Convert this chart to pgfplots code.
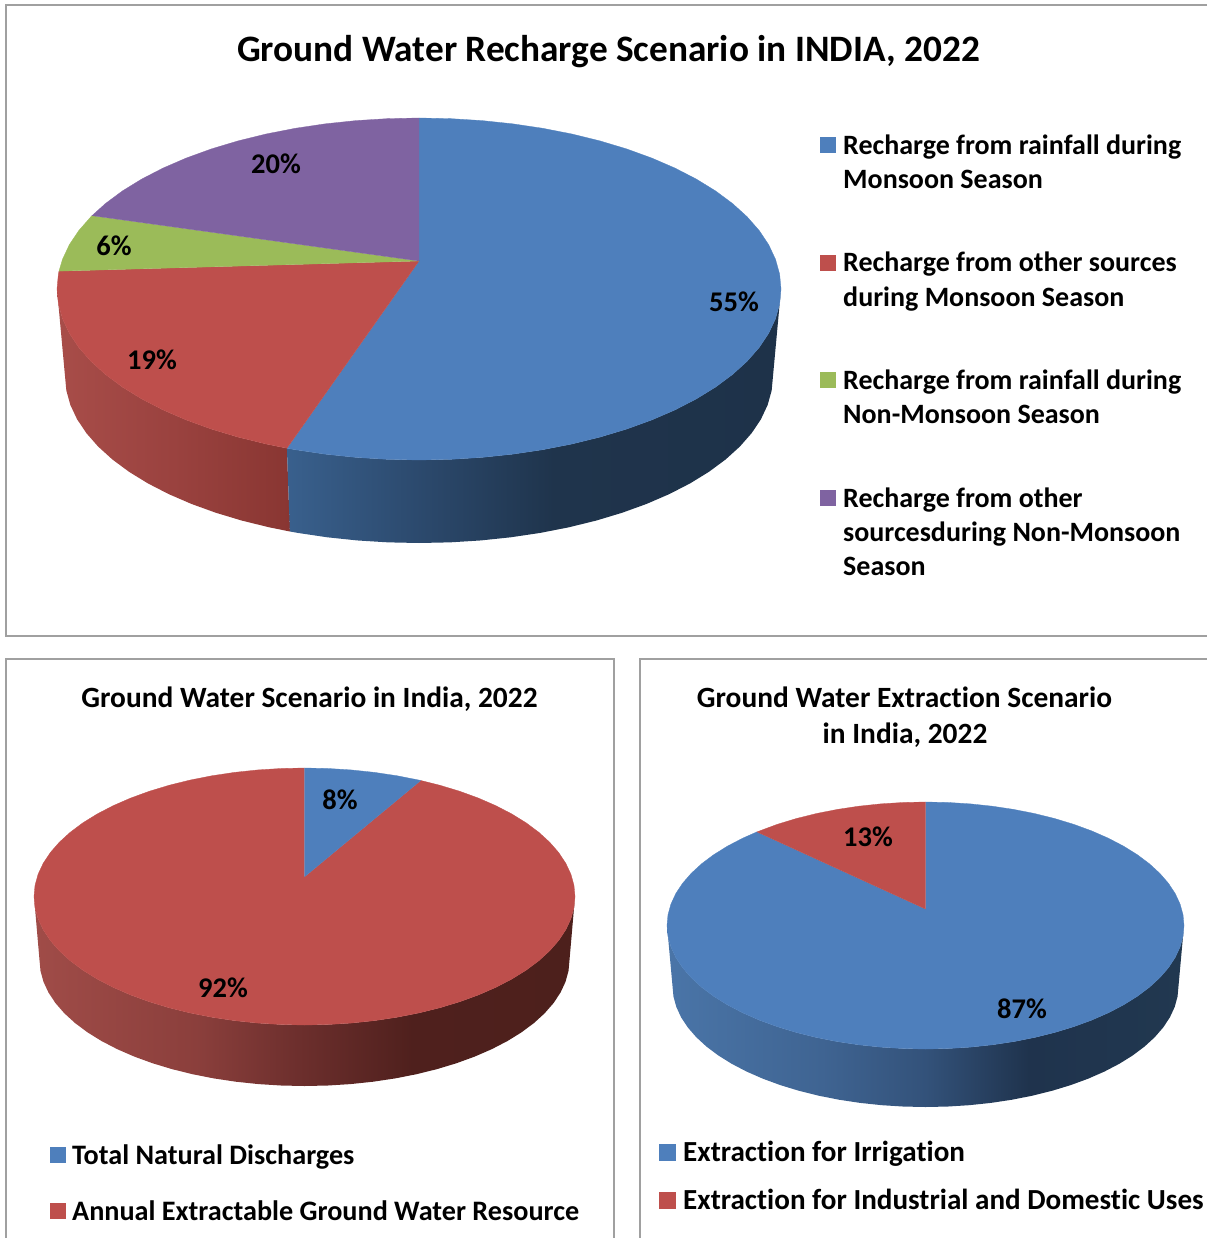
\documentclass[border=0pt]{standalone}
\usepackage{fontspec}
\setmainfont{Carlito}[Ligatures=CommonOff]
\usepackage{pgfplots}
\usepackage{pgfplotstable}
\pgfplotsset{compat=1.18}
\definecolor{cblue}{HTML}{4E7FBC}
\definecolor{cred}{HTML}{BE4F4C}
\definecolor{cgreen}{HTML}{9BBB59}
\definecolor{cpurple}{HTML}{7F63A1}
\definecolor{frameg}{HTML}{A0A0A0}
\definecolor{ab1}{HTML}{39608D}\definecolor{ab2}{HTML}{2C4A6E}\definecolor{ab3}{HTML}{1F344C}\definecolor{ab4}{HTML}{1E3249}
\definecolor{ar1}{HTML}{A84D49}\definecolor{ar2}{HTML}{9A423F}\definecolor{ar3}{HTML}{893632}
\definecolor{br1}{HTML}{A04C48}\definecolor{br2}{HTML}{8B3F3C}\definecolor{br3}{HTML}{6B2E2C}\definecolor{br4}{HTML}{4F201D}\definecolor{br5}{HTML}{4D201C}
\definecolor{cb1}{HTML}{4A75A8}\definecolor{cb2}{HTML}{3F6492}\definecolor{cb3}{HTML}{33527A}\definecolor{cb4}{HTML}{1F334D}\definecolor{cb5}{HTML}{213850}
\pgfdeclarehorizontalshading{wallAblue}{100bp}{color(0bp)=(ab1);color(25bp)=(ab1);color(38bp)=(ab2);color(52bp)=(ab3);color(75bp)=(ab4);color(100bp)=(ab4)}
\pgfdeclarehorizontalshading{wallAred}{100bp}{color(0bp)=(ar1);color(25bp)=(ar1);color(50bp)=(ar2);color(75bp)=(ar3);color(100bp)=(ar3)}
\pgfdeclarehorizontalshading{wallBred}{100bp}{color(0bp)=(br1);color(25bp)=(br1);color(40bp)=(br2);color(50bp)=(br3);color(60bp)=(br4);color(75bp)=(br5);color(100bp)=(br5)}
\pgfdeclarehorizontalshading{wallCblue}{100bp}{color(0bp)=(cb1);color(25bp)=(cb1);color(40bp)=(cb2);color(50bp)=(cb3);color(60bp)=(cb4);color(75bp)=(cb5);color(100bp)=(cb5)}
% Slices: a = angle on the rim (degrees), r = 0 hub, 1 rim
\pgfplotstableread[row sep=\\]{a r\\0 0\\90 1\\85 1\\80 1\\75 1\\70 1\\65 1\\60 1\\55 1\\50 1\\45 1\\40 1\\35 1\\30 1\\25 1\\20 1\\15 1\\10 1\\5 1\\0 1\\-5 1\\-10 1\\-15 1\\-20 1\\-25 1\\-30 1\\-35 1\\-40 1\\-45 1\\-50 1\\-55 1\\-60 1\\-65 1\\-70 1\\-75 1\\-80 1\\-85 1\\-90 1\\-95 1\\-100 1\\-105 1\\-110 1\\-111.4 1\\}\sliceAblue
\pgfplotstableread[row sep=\\]{a r\\0 0\\248.6 1\\245 1\\240 1\\235 1\\230 1\\225 1\\220 1\\215 1\\210 1\\205 1\\200 1\\195 1\\190 1\\185 1\\180 1\\175 1\\174 1\\}\sliceAred
\pgfplotstableread[row sep=\\]{a r\\0 0\\174 1\\170 1\\165 1\\160 1\\155 1\\154.6 1\\}\sliceAgreen
\pgfplotstableread[row sep=\\]{a r\\0 0\\154.6 1\\150 1\\145 1\\140 1\\135 1\\130 1\\125 1\\120 1\\115 1\\110 1\\105 1\\100 1\\95 1\\90 1\\}\sliceApurple
\pgfplotstableread[row sep=\\]{a r\\0 0\\90 1\\85 1\\80 1\\75 1\\70 1\\65 1\\64.5 1\\}\sliceBblue
\pgfplotstableread[row sep=\\]{a r\\0 0\\64.5 1\\60 1\\55 1\\50 1\\45 1\\40 1\\35 1\\30 1\\25 1\\20 1\\15 1\\10 1\\5 1\\0 1\\-5 1\\-10 1\\-15 1\\-20 1\\-25 1\\-30 1\\-35 1\\-40 1\\-45 1\\-50 1\\-55 1\\-60 1\\-65 1\\-70 1\\-75 1\\-80 1\\-85 1\\-90 1\\-95 1\\-100 1\\-105 1\\-110 1\\-115 1\\-120 1\\-125 1\\-130 1\\-135 1\\-140 1\\-145 1\\-150 1\\-155 1\\-160 1\\-165 1\\-170 1\\-175 1\\-180 1\\-185 1\\-190 1\\-195 1\\-200 1\\-205 1\\-210 1\\-215 1\\-220 1\\-225 1\\-230 1\\-235 1\\-240 1\\-245 1\\-250 1\\-255 1\\-260 1\\-265 1\\-270 1\\}\sliceBred
\pgfplotstableread[row sep=\\]{a r\\0 0\\130.7 1\\125 1\\120 1\\115 1\\110 1\\105 1\\100 1\\95 1\\90 1\\}\sliceCred
\pgfplotstableread[row sep=\\]{a r\\0 0\\90 1\\85 1\\80 1\\75 1\\70 1\\65 1\\60 1\\55 1\\50 1\\45 1\\40 1\\35 1\\30 1\\25 1\\20 1\\15 1\\10 1\\5 1\\0 1\\-5 1\\-10 1\\-15 1\\-20 1\\-25 1\\-30 1\\-35 1\\-40 1\\-45 1\\-50 1\\-55 1\\-60 1\\-65 1\\-70 1\\-75 1\\-80 1\\-85 1\\-90 1\\-95 1\\-100 1\\-105 1\\-110 1\\-115 1\\-120 1\\-125 1\\-130 1\\-135 1\\-140 1\\-145 1\\-150 1\\-155 1\\-160 1\\-165 1\\-170 1\\-175 1\\-180 1\\-185 1\\-190 1\\-195 1\\-200 1\\-205 1\\-210 1\\-215 1\\-220 1\\-225 1\\-229.3 1\\}\sliceCblue
% Walls: t = 0 top rim, 1 bottom rim
\pgfplotstableread[row sep=\\]{a t\\248.6 0\\250 0\\255 0\\260 0\\265 0\\270 0\\275 0\\280 0\\285 0\\290 0\\295 0\\300 0\\305 0\\310 0\\315 0\\320 0\\325 0\\330 0\\335 0\\340 0\\345 0\\350 0\\355 0\\360 0\\360 1\\355 1\\350 1\\345 1\\340 1\\335 1\\330 1\\325 1\\320 1\\315 1\\310 1\\305 1\\300 1\\295 1\\290 1\\285 1\\280 1\\275 1\\270 1\\265 1\\260 1\\255 1\\250 1\\248.6 1\\}\wallAb
\pgfplotstableread[row sep=\\]{a t\\180 0\\185 0\\190 0\\195 0\\200 0\\205 0\\210 0\\215 0\\220 0\\225 0\\230 0\\235 0\\240 0\\245 0\\248.6 0\\248.6 1\\245 1\\240 1\\235 1\\230 1\\225 1\\220 1\\215 1\\210 1\\205 1\\200 1\\195 1\\190 1\\185 1\\180 1\\}\wallAr
\pgfplotstableread[row sep=\\]{a t\\180 0\\185 0\\190 0\\195 0\\200 0\\205 0\\210 0\\215 0\\220 0\\225 0\\230 0\\235 0\\240 0\\245 0\\250 0\\255 0\\260 0\\265 0\\270 0\\275 0\\280 0\\285 0\\290 0\\295 0\\300 0\\305 0\\310 0\\315 0\\320 0\\325 0\\330 0\\335 0\\340 0\\345 0\\350 0\\355 0\\360 0\\360 1\\355 1\\350 1\\345 1\\340 1\\335 1\\330 1\\325 1\\320 1\\315 1\\310 1\\305 1\\300 1\\295 1\\290 1\\285 1\\280 1\\275 1\\270 1\\265 1\\260 1\\255 1\\250 1\\245 1\\240 1\\235 1\\230 1\\225 1\\220 1\\215 1\\210 1\\205 1\\200 1\\195 1\\190 1\\185 1\\180 1\\}\wallFull
% #1 colour, #2 table, #3 cx, #4 rx, #5 cy, #6 ry, #7 hub y
\newcommand{\slice}[7]{\addplot[fill=#1,draw=#1,line width=0.3pt,forget plot] table[x expr={#3+\thisrow{r}*#4*cos(\thisrow{a})},y expr={#7+\thisrow{r}*(#5-#7)-\thisrow{r}*#6*sin(\thisrow{a})}] {#2};}
% #1 shading, #2 table, #3 cx, #4 rx, #5 rxb, #6 cy, #7 cyb, #8 ry, #9 ryb
\newcommand{\wall}[9]{\addplot[shading=#1,draw=none,forget plot] table[x expr={#3+(#4+\thisrow{t}*(#5-#4))*cos(\thisrow{a})},y expr={#6+\thisrow{t}*(#7-#6)-(#8+\thisrow{t}*(#9-#8))*sin(\thisrow{a})}] {#2};}
\newcommand{\key}[5]{\addplot[fill=#1,draw=none,forget plot] coordinates {(#2,#4) (#3,#4) (#3,#5) (#2,#5)};}
\tikzset{ttl/.style={font=\fontsize{37.3}{40}\selectfont\bfseries,anchor=base},
 ttls/.style={font=\fontsize{29.4}{32}\selectfont\bfseries,anchor=base},
 lab/.style={font=\fontsize{28.5}{30}\selectfont\bfseries,anchor=center},
 legt/.style={font=\fontsize{28}{30}\selectfont\bfseries,anchor=base west,inner sep=0pt},
 leg/.style={font=\fontsize{28.2}{30}\selectfont\bfseries,anchor=base west,inner sep=0pt},
 legc/.style={font=\fontsize{29.1}{30}\selectfont\bfseries,anchor=base west,inner sep=0pt}}
\begin{document}
\begin{tikzpicture}
\begin{axis}[scale only axis,width=1207pt,height=1238pt,hide axis,xmin=0,xmax=1207,ymin=0,ymax=1238,y dir=reverse,clip=false]
% frames
\addplot[frameg,line width=1.6pt,forget plot] coordinates {(1207,5) (6,5) (6,636) (1207,636)};
\addplot[frameg,line width=1.6pt,forget plot] coordinates {(6,1238) (6,659) (614,659) (614,1238)};
\addplot[frameg,line width=1.6pt,forget plot] coordinates {(640,1238) (640,659) (1207,659)};
% pie A
\wall{wallAred}{\wallAr}{419}{362}{354}{289}{376}{171}{167}
\wall{wallAblue}{\wallAb}{419}{362}{354}{289}{376}{171}{167}
\slice{cblue}{\sliceAblue}{419}{362}{289}{171}{261}
\slice{cred}{\sliceAred}{419}{362}{289}{171}{261}
\slice{cgreen}{\sliceAgreen}{419}{362}{289}{171}{261}
\slice{cpurple}{\sliceApurple}{419}{362}{289}{171}{261}
% pie B
\wall{wallBred}{\wallFull}{304.5}{270.5}{265}{896.5}{960}{128.5}{126}
\slice{cred}{\sliceBred}{304.5}{270.5}{896.5}{128.5}{877}
\slice{cblue}{\sliceBblue}{304.5}{270.5}{896.5}{128.5}{877}
% pie C
\wall{wallCblue}{\wallFull}{925.5}{258.5}{253}{925.5}{986}{123.5}{121}
\slice{cblue}{\sliceCblue}{925.5}{258.5}{925.5}{123.5}{909}
\slice{cred}{\sliceCred}{925.5}{258.5}{925.5}{123.5}{909}
% legend keys
\key{cblue}{820}{836}{137}{153}
\key{cred}{820}{836}{255}{271}
\key{cgreen}{820}{836}{372}{388}
\key{cpurple}{820}{836}{490}{506}
\key{cblue}{50}{66}{1147}{1163}
\key{cred}{50}{66}{1203}{1219}
\key{cblue}{659}{676}{1144}{1161}
\key{cred}{659}{676}{1192}{1209}
% titles
\node[ttl] at (axis cs:608.5,62) {Ground Water Recharge Scenario in INDIA, 2022};
\node[ttls] at (axis cs:309.5,707) {Ground Water Scenario in India, 2022};
\node[ttls] at (axis cs:904.5,707) {Ground Water Extraction Scenario};
\node[ttls] at (axis cs:905,743) {in India, 2022};
% data labels
\node[lab] at (axis cs:276,164) {20\%};
\node[lab] at (axis cs:114,246) {6\%};
\node[lab] at (axis cs:152,360) {19\%};
\node[lab] at (axis cs:734,302) {55\%};
\node[lab] at (axis cs:340,800) {8\%};
\node[lab] at (axis cs:223,988) {92\%};
\node[lab] at (axis cs:868,837) {13\%};
\node[lab] at (axis cs:1022,1009) {87\%};
% legend text
\node[legt] at (axis cs:843,155) {Recharge from rainfall during};
\node[legt] at (axis cs:843,189) {Monsoon Season};
\node[legt] at (axis cs:843,272) {Recharge from other sources};
\node[legt] at (axis cs:843,306) {during Monsoon Season};
\node[legt] at (axis cs:843,389) {Recharge from rainfall during};
\node[legt] at (axis cs:843,423) {Non-Monsoon Season};
\node[legt] at (axis cs:843,507) {Recharge from other};
\node[legt] at (axis cs:843,541) {sourcesduring Non-Monsoon};
\node[legt] at (axis cs:843,575) {Season};
\node[leg] at (axis cs:72,1164) {Total Natural Discharges};
\node[leg] at (axis cs:72,1220) {Annual Extractable Ground Water Resource};
\node[legc] at (axis cs:683,1161) {Extraction for Irrigation};
\node[legc] at (axis cs:683,1209) {Extraction for Industrial and Domestic Uses};
\end{axis}
\pgfresetboundingbox
\path[use as bounding box] (0,0) rectangle (1207pt,1238pt);
\end{tikzpicture}
\end{document}
